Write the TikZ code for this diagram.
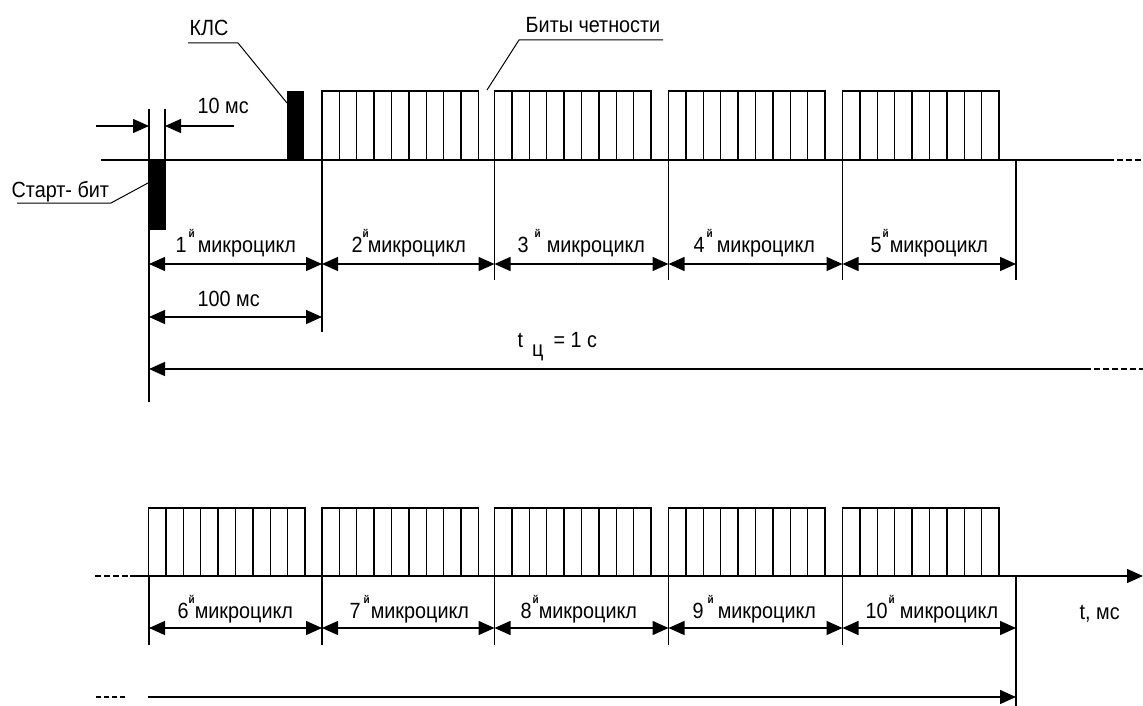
\documentclass[tikz,border=0pt]{standalone}
\usepackage{fontspec}
\setmainfont{Liberation Sans}[FakeStretch=0.9]
\usetikzlibrary{arrows.meta}
\newcommand\mcl[3]{#1\hspace{#2}\raisebox{15pt}{\fontsize{11}{11}\selectfont\bfseries й}\hspace{#3}микроцикл}
\begin{document}
\begin{tikzpicture}[x=1pt,y=-1pt,line width=1.4pt,
  tri/.tip={Triangle[length=16pt,width=14pt]},
  dimarrow/.style={tri-tri},
  tipR/.style={-tri},
  tipL/.style={tri-},
  lbl/.style={inner sep=0pt,anchor=base west,font=\fontsize{22}{26}\selectfont},
  dashline/.style={dash pattern=on 6pt off 3pt},
  bar/.style={fill=black,draw=black,line width=0.5pt,inner sep=0pt,outer sep=0pt,minimum width=16pt,minimum height=69pt,anchor=north west},
  cellbox/.style={draw=black}]
\useasboundingbox (0,0) rectangle (1143,706);
\fill[white] (0,0) rectangle (1143,706);

% ---------- top timeline ----------
\coordinate (t0) at (149,160);
\coordinate (t1) at (322,160);
\coordinate (t2) at (494.5,160);
\coordinate (t3) at (668.5,160);
\coordinate (t4) at (842.5,160);
\coordinate (t5) at (1016,160);
\coordinate (tl) at (101,160);
\coordinate (tr) at (1108,160);
\coordinate (tre) at (1143,160);
\draw (tl) -- (tr);
\draw[dashline] (tr) -- (tre);

% parity blocks top
\foreach \s in {322,494.5,668.5,842.5}{
  \draw (\s,91) rectangle ++(156.5,69);
  \foreach \i in {1,...,8} \draw (\s+\i*17.39,91) -- ++(0,69);
}

% start bit and KLS
\node[bar] (start) at (149,160) {};
\node[bar] (kls) at (287,91) {};

% vertical extension lines
\coordinate (v0a) at (149,109);
\coordinate (v0b) at (149,402);
\coordinate (v1a) at (165,109);
\coordinate (v1b) at (165,160);
\draw (v0a) -- (v0b);
\draw (v1a) -- (v1b);
\coordinate (e1) at (322,332);
\coordinate (e2) at (494.5,280);
\coordinate (e3) at (668.5,280);
\coordinate (e4) at (842.5,280);
\coordinate (e5) at (1016,280);
\draw (t1) -- (e1);
\draw (t2) -- (e2);
\draw (t3) -- (e3);
\draw (t4) -- (e4);
\draw (t5) -- (e5);

% 10 ms
\coordinate (a1) at (96,126);
\coordinate (a2) at (149,126);
\coordinate (a3) at (234,126);
\coordinate (a4) at (165,126);
\draw[tipR] (a1) -- (a2);
\draw[tipR] (a3) -- (a4);
\node[lbl] (ten) at (197,114) {10 мс};

% microcycle dimension arrows top
\foreach \a/\b [count=\k] in {149/322,322/494.5,494.5/668.5,668.5/842.5,842.5/1016}{
  \coordinate (dA\k) at (\a,264);
  \coordinate (dB\k) at (\b,264);
  \draw[dimarrow] (dA\k) -- (dB\k);
}
\node[lbl] (m1) at (175,252) {\mcl{1}{2pt}{3pt}};
\node[lbl] (m2) at (351,252) {\mcl{2}{0pt}{-1pt}};
\node[lbl] (m3) at (517,252) {\mcl{3}{6pt}{6pt}};
\node[lbl] (m4) at (693,252) {\mcl{4}{2pt}{4pt}};
\node[lbl] (m5) at (870,252) {\mcl{5}{1pt}{1pt}};

% 100 ms
\coordinate (h1) at (149,317);
\coordinate (h2) at (322,317);
\draw[dimarrow] (h1) -- (h2);
\node[lbl] (hundred) at (197,306) {100 мс};

% cycle time
\coordinate (c1) at (149,369);
\coordinate (c2) at (1085,369);
\coordinate (c3) at (1143,369);
\draw[tipL] (c1) -- (c2);
\draw[dashline] (c2) -- (c3);
\node[lbl] (tc) at (517,347) {t\hspace{9pt}\raisebox{-9pt}{ц}\hspace{10pt}= 1 с};

% labels with leaders
\node[lbl] (klslbl) at (189,36) {КЛС};
\coordinate (k1) at (188,43);
\coordinate (k2) at (238,43);
\coordinate (k3) at (287,103);
\draw[line width=1pt] (k1) -- (k2) -- (k3);

\node[lbl] (startlbl) at (11,197) {Старт- бит};
\coordinate (s1) at (17,203);
\coordinate (s2) at (111,203);
\coordinate (s3) at (148,183);
\draw[line width=1pt] (s1) -- (s2) -- (s3);

\node[lbl] (parlbl) at (525,33) {Биты четности};
\coordinate (p1) at (663,40);
\coordinate (p2) at (519,40);
\coordinate (p3) at (487,90);
\draw[line width=1pt] (p1) -- (p2) -- (p3);

% ---------- bottom timeline ----------
\coordinate (u0) at (149,576);
\coordinate (u1) at (322,576);
\coordinate (u2) at (494.5,576);
\coordinate (u3) at (668.5,576);
\coordinate (u4) at (842.5,576);
\coordinate (u5) at (1016,576);
\coordinate (ul) at (95,576);
\coordinate (ulm) at (130,576);
\coordinate (ur) at (1143,576);
\draw[dashline] (ul) -- (ulm);
\draw[tipR] (ulm) -- (ur);

\foreach \s in {148.5,322,494.5,668.5,842.5}{
  \draw (\s,508) rectangle ++(156.5,68);
  \foreach \i in {1,...,8} \draw (\s+\i*17.39,508) -- ++(0,68);
}

\coordinate (f0) at (149,645);
\coordinate (f1) at (322,645);
\coordinate (f2) at (494.5,645);
\coordinate (f3) at (668.5,645);
\coordinate (f4) at (842.5,645);
\coordinate (f5) at (1016,706);
\draw (u0) -- (f0);
\draw (u1) -- (f1);
\draw (u2) -- (f2);
\draw (u3) -- (f3);
\draw (u4) -- (f4);
\draw (u5) -- (f5);

\foreach \a/\b [count=\k] in {149/322,322/494.5,494.5/668.5,668.5/842.5,842.5/1016}{
  \coordinate (gA\k) at (\a,628);
  \coordinate (gB\k) at (\b,628);
  \draw[dimarrow] (gA\k) -- (gB\k);
}
\node[lbl] (m6) at (177,618) {\mcl{6}{0pt}{0pt}};
\node[lbl] (m7) at (349,618) {\mcl{7}{3pt}{1pt}};
\node[lbl] (m8) at (520,618) {\mcl{8}{1pt}{0pt}};
\node[lbl] (m9) at (692,618) {\mcl{9}{4pt}{4pt}};
\node[lbl] (m10) at (865,618) {\mcl{10}{1pt}{5pt}};

\node[lbl] (tms) at (1079,619) {t, мс};

\coordinate (w1) at (96,697);
\coordinate (w2) at (125,697);
\coordinate (w3) at (148,697);
\coordinate (w4) at (1016,697);
\draw[dash pattern=on 5pt off 3pt] (w1) -- (w2);
\draw[tipR] (w3) -- (w4);
\end{tikzpicture}
\end{document}
